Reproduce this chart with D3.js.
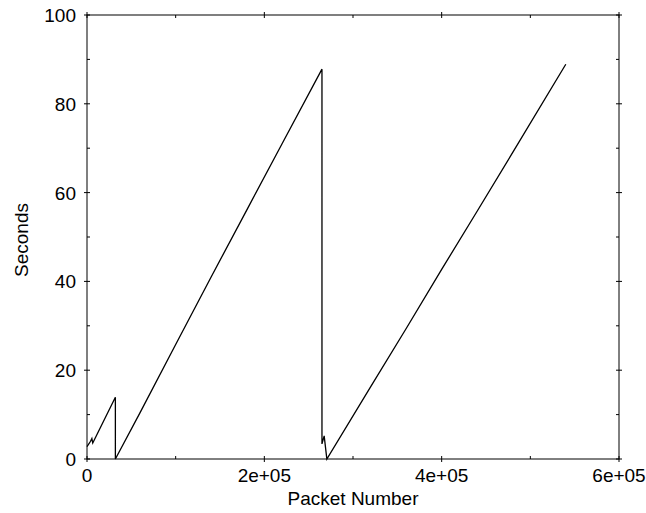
<!DOCTYPE html>
<html>
<head>
<meta charset="utf-8">
<script src="https://cdn.jsdelivr.net/npm/d3@7"></script>
<style>
  body { margin: 0; background: #fff; }
  svg { font-family: "Liberation Sans", Arial, sans-serif; }
</style>
</head>
<body>
<svg id="chart" width="646" height="513"></svg>
<script>
// packet number vs seconds
var packets = [0, 4000, 5500, 6500, 32000, 32000, 60000, 100000, 140000, 180000, 220000, 265000,
               265000, 267500, 270500, 320000, 360000, 400000, 440000, 480000, 540000];
var seconds = [2.8, 4.0, 4.6, 3.6, 13.9, 0, 10.5, 25.8, 41, 56, 71, 87.8,
               3.4, 5.2, 0, 16.3, 29.4, 42.7, 55.8, 69, 88.9];

var xTicks = [0, 200000, 400000, 600000];
var xTickLabels = ['0', '2e+05', '4e+05', '6e+05'];
var xMinor = [100000, 300000, 500000];
var yTicks = [0, 20, 40, 60, 80, 100];
var yMinor = [10, 30, 50, 70, 90];

var svg = d3.select('#chart');
var padding = {t: 15, r: 27, b: 54, l: 87};
var width = +svg.attr('width') - padding.l - padding.r;
var height = +svg.attr('height') - padding.t - padding.b;

var x = d3.scaleLinear().domain([0, 600000]).range([0, width]);
var y = d3.scaleLinear().domain([0, 100]).range([height, 0]);

var chartG = svg.append('g')
    .attr('transform', 'translate(' + [padding.l, padding.t] + ')');

// frame
chartG.append('rect')
    .attr('width', width).attr('height', height)
    .attr('fill', 'none').attr('stroke', '#000').attr('stroke-width', 1);

// ticks on all four sides: major ones cross the frame, minor ones point inward
function ticks(vals, len, cross) {
    vals.forEach(function(v) {
        var px = x(v);
        chartG.append('line').attr('x1', px).attr('x2', px)
            .attr('y1', height + (cross ? len : 0)).attr('y2', height - len);
        chartG.append('line').attr('x1', px).attr('x2', px)
            .attr('y1', cross ? -len : 0).attr('y2', len);
    });
}
function yticks(vals, len, cross) {
    vals.forEach(function(v) {
        var py = y(v);
        chartG.append('line').attr('y1', py).attr('y2', py)
            .attr('x1', cross ? -len : 0).attr('x2', len);
        chartG.append('line').attr('y1', py).attr('y2', py)
            .attr('x1', width + (cross ? len : 0)).attr('x2', width - len);
    });
}
ticks(xTicks, 3, true);
ticks(xMinor, 3, false);
yticks(yTicks, 3, true);
yticks(yMinor, 3, false);
chartG.selectAll('line').attr('stroke', '#000').attr('stroke-width', 1);

// tick labels
chartG.selectAll('.xlab').data(xTicks).enter().append('text')
    .attr('class', 'xlab')
    .attr('x', function(d) { return x(d); })
    .attr('y', height + 23)
    .attr('text-anchor', 'middle')
    .attr('font-size', 19)
    .text(function(d, i) { return xTickLabels[i]; });

chartG.selectAll('.ylab').data(yTicks).enter().append('text')
    .attr('class', 'ylab')
    .attr('x', -11)
    .attr('y', function(d) { return y(d) + 7; })
    .attr('text-anchor', 'end')
    .attr('font-size', 19)
    .text(function(d) { return d; });

// axis titles
svg.append('text')
    .attr('x', 353)
    .attr('y', 505)
    .attr('text-anchor', 'middle')
    .attr('font-size', 19)
    .text('Packet Number');

svg.append('text')
    .attr('transform', 'translate(28,240) rotate(-90)')
    .attr('text-anchor', 'middle')
    .attr('font-size', 19)
    .text('Seconds');

// the series
var line = d3.line()
    .x(function(d) { return x(d[0]); })
    .y(function(d) { return y(d[1]); });

chartG.append('path')
    .datum(packets.map(function(p, i) { return [p, seconds[i]]; }))
    .attr('fill', 'none')
    .attr('stroke', '#000')
    .attr('stroke-width', 1.3)
    .attr('d', line);
</script>
</body>
</html>
